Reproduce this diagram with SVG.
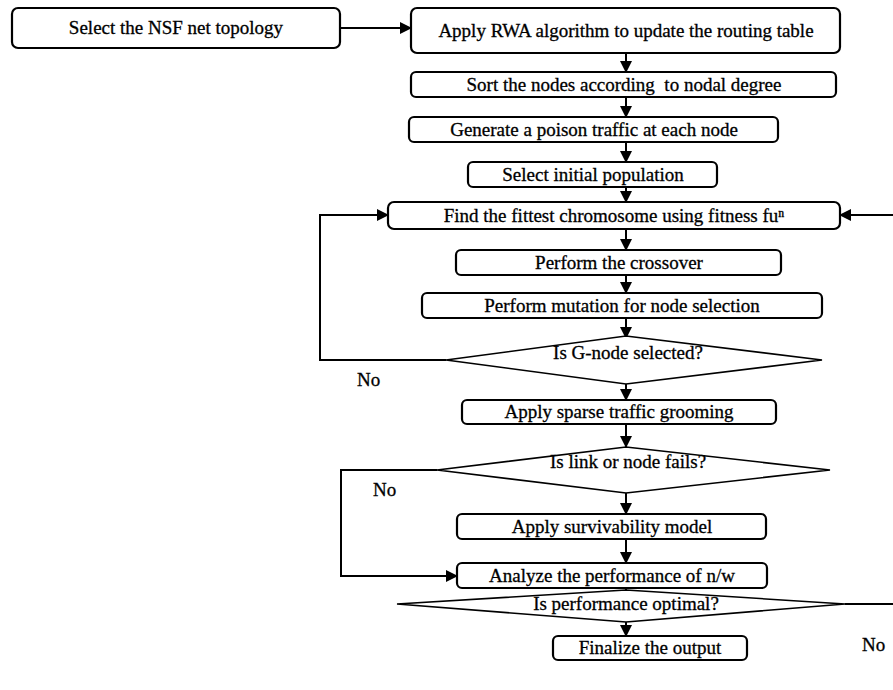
<svg xmlns="http://www.w3.org/2000/svg" width="893" height="690" viewBox="0 0 893 690">
<defs>
<marker id="ah" markerUnits="userSpaceOnUse" markerWidth="12" markerHeight="12" refX="11" refY="6" orient="auto">
<path d="M0,0 L12,6 L0,12 z" fill="#000"/>
</marker>
<style>
.box{fill:#fff;stroke:#000;stroke-width:2.2}
.dia{fill:#fff;stroke:#000;stroke-width:1.6}
.t{font-family:"Liberation Serif","Times New Roman",serif;font-size:19px;fill:#000;stroke:#000;stroke-width:0.3;text-anchor:middle;white-space:pre}
.lbl{font-family:"Liberation Serif","Times New Roman",serif;font-size:19px;fill:#000;stroke:#000;stroke-width:0.3}
.c{fill:none;stroke:#000;stroke-width:2}
</style>
</defs>
<rect width="893" height="690" fill="#fff"/>
<g id="connectors">
<path class="c" d="M340,28 H411" marker-end="url(#ah)"/>
<path class="c" d="M626,53 V72" marker-end="url(#ah)"/>
<path class="c" d="M626,97 V117" marker-end="url(#ah)"/>
<path class="c" d="M626,142 V162" marker-end="url(#ah)"/>
<path class="c" d="M626,187 V202" marker-end="url(#ah)"/>
<path class="c" d="M626,229 V250" marker-end="url(#ah)"/>
<path class="c" d="M626,275 V293" marker-end="url(#ah)"/>
<path class="c" d="M626,318 V338" marker-end="url(#ah)"/>
<path class="c" d="M626,384 V400" marker-end="url(#ah)"/>
<path class="c" d="M626,424 V447" marker-end="url(#ah)"/>
<path class="c" d="M626,493 V514" marker-end="url(#ah)"/>
<path class="c" d="M626,539 V563" marker-end="url(#ah)"/>
<path class="c" d="M626,588 V590" marker-end="url(#ah)"/>
<path class="c" d="M626,622 V636" marker-end="url(#ah)"/>
<path class="c" d="M446,360 H320 V215 H388" marker-end="url(#ah)"/>
<path class="c" d="M437,470 H341 V576 H457" marker-end="url(#ah)"/>
<path class="c" d="M845,604 H905 V215 H840" marker-end="url(#ah)"/>
<text class="lbl" x="357" y="386">No</text>
<text class="lbl" x="373" y="496">No</text>
<text class="lbl" x="862" y="651">No</text>
</g>
<g id="n1"><rect class="box" x="12" y="8" width="328" height="40" rx="6"/><text class="t" x="176" y="34">Select the NSF net topology</text></g>
<g id="n2"><rect class="box" x="411" y="8" width="429" height="45" rx="6"/><text class="t" x="626" y="37">Apply RWA algorithm to update the routing table</text></g>
<g id="n3"><rect class="box" x="411" y="72" width="425" height="25" rx="5"/><text class="t" x="624" y="91" xml:space="preserve">Sort the nodes according  to nodal degree</text></g>
<g id="n4"><rect class="box" x="409" y="117" width="369" height="25" rx="5"/><text class="t" x="594" y="136">Generate a poison traffic at each node</text></g>
<g id="n5"><rect class="box" x="468" y="162" width="249" height="25" rx="5"/><text class="t" x="593" y="181">Select initial population</text></g>
<g id="n6"><rect class="box" x="388" y="202" width="452" height="27" rx="6"/><text class="t" x="614" y="222">Find the fittest chromosome using fitness fuⁿ</text></g>
<g id="n7"><rect class="box" x="456" y="250" width="325" height="25" rx="5"/><text class="t" x="619" y="269">Perform the crossover</text></g>
<g id="n8"><rect class="box" x="422" y="293" width="400" height="25" rx="5"/><text class="t" x="622" y="312">Perform mutation for node selection</text></g>
<g id="d1"><polygon class="dia" points="446,360 626,336 822,360 626,384"/><text class="t" x="628" y="359">Is G-node selected?</text></g>
<g id="n9"><rect class="box" x="462" y="400" width="314" height="24" rx="5"/><text class="t" x="619" y="418">Apply sparse traffic grooming</text></g>
<g id="d2"><polygon class="dia" points="437,470 626,447 830,470 626,493"/><text class="t" x="628" y="468">Is link or node fails?</text></g>
<g id="n10"><rect class="box" x="457" y="514" width="309" height="25" rx="5"/><text class="t" x="612" y="533">Apply survivability model</text></g>
<g id="n11"><rect class="box" x="457" y="563" width="310" height="25" rx="5"/><text class="t" x="612" y="582">Analyze the performance of n/w</text></g>
<g id="d3"><polygon class="dia" points="397,604 626,590 845,604 626,622"/><text class="t" x="626" y="610">Is performance optimal?</text></g>
<g id="n12"><rect class="box" x="553" y="636" width="194" height="24" rx="5"/><text class="t" x="650" y="654">Finalize the output</text></g>
</svg>
